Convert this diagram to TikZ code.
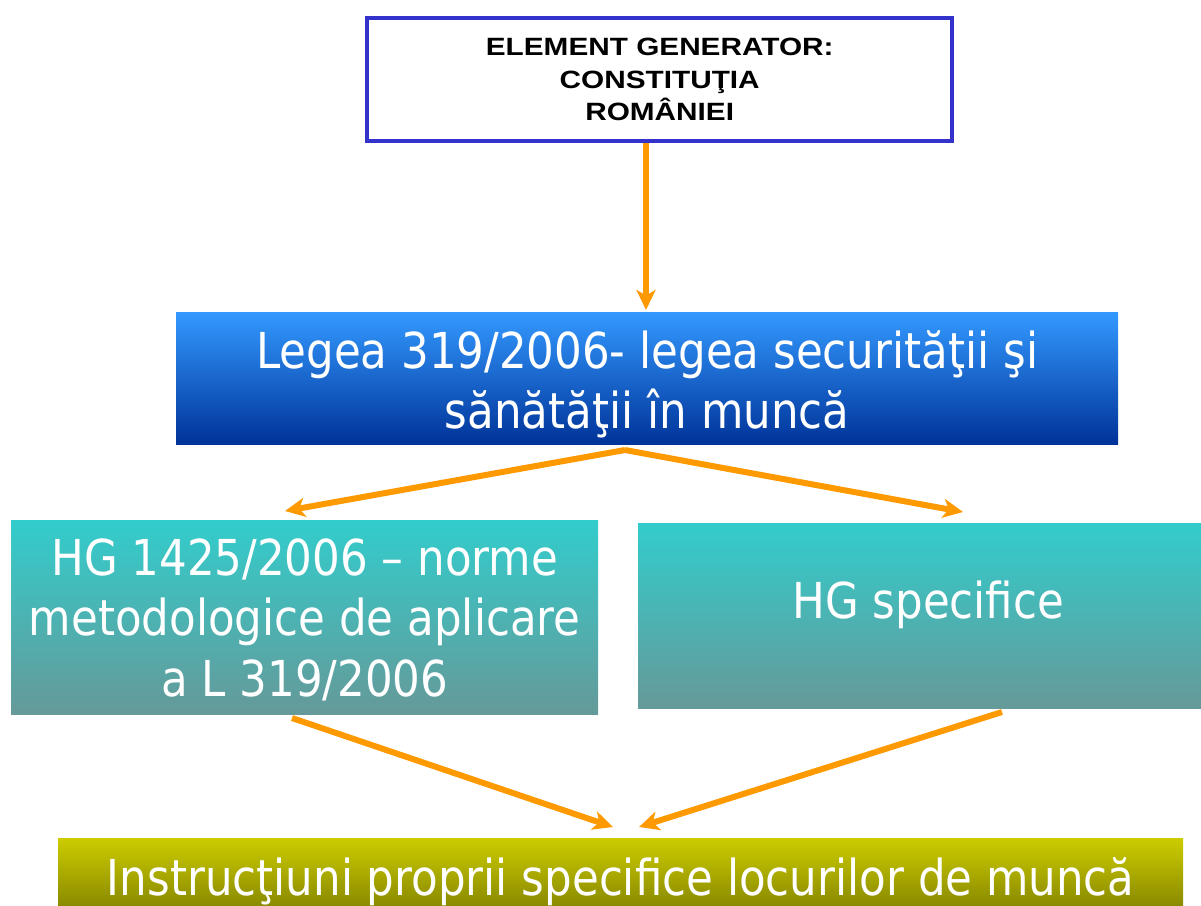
\documentclass[tikz,border=0pt]{standalone}
\usepackage{fontspec}
\setmainfont{Liberation Sans}
\newfontfamily\tahomalike[FakeStretch=0.88]{DejaVu Sans}
\newfontfamily\genfont[FakeStretch=1.19]{Liberation Sans Bold}
\usetikzlibrary{arrows.meta}
\definecolor{framebl}{HTML}{3333CC}
\definecolor{arrowor}{HTML}{FF9900}
\definecolor{lawtop}{HTML}{3399FF}
\definecolor{lawbot}{HTML}{003399}
\definecolor{hgtop}{HTML}{33CCCC}
\definecolor{hgbot}{HTML}{669999}
\definecolor{insttop}{HTML}{CCCC00}
\definecolor{instbot}{HTML}{7A7A00}
\tikzset{
  genbox/.style={draw=framebl, line width=4.4pt, fill=white, align=center, inner sep=0pt,
    font=\genfont\fontsize{25}{32.5}\selectfont},
  lawbox/.style={top color=lawtop, bottom color=lawbot, draw=none, inner sep=0pt},
  hgbox/.style={top color=hgtop, bottom color=hgbot, draw=none, inner sep=0pt},
  instbox/.style={top color=insttop, bottom color=instbot, draw=none, inner sep=0pt},
  bigtext/.style={text=white, align=center, inner sep=0pt,
    font=\tahomalike\fontsize{49.5}{60}\selectfont},
  hgtext/.style={text=white, align=center, inner sep=0pt,
    font=\tahomalike\fontsize{49.5}{60.5}\selectfont},
  flow/.style={draw=arrowor, line width=6pt, -{Stealth[length=20pt,width=19pt,inset=5.5pt]}}
}
\begin{document}
\begin{tikzpicture}[x=1pt,y=-1pt]
\useasboundingbox (0,0) rectangle (1201,905);
\node[genbox, minimum width=585pt, minimum height=123pt, anchor=north west] (gen) at (365,16)
  {ELEMENT GENERATOR:\\CONSTITUŢIA\\ROMÂNIEI};
\node[lawbox, minimum width=942pt, minimum height=132pt, anchor=north west] (law) at (176,312) {};
\node[bigtext, yshift=-6pt] (lawtxt) at (law.center)
  {Legea 319/2006- legea securităţii şi\\sănătăţii în muncă};
\node[hgbox, minimum width=587pt, minimum height=194pt, anchor=north west] (hgl) at (11,520) {};
\node[hgtext, yshift=-2.5pt] (hgltxt) at (hgl.center)
  {HG 1425/2006 – norme\\metodologice de aplicare\\a L 319/2006};
\node[hgbox, minimum width=580pt, minimum height=185pt, anchor=north west] (hgr) at (638,523) {};
\node[hgtext, yshift=10.5pt] (hgrtxt) at (hgr.center) {HG specifice};
\node[instbox, minimum width=1125pt, minimum height=84pt, anchor=north west] (inst) at (58,838) {};
\node[bigtext, yshift=-1pt] (insttxt) at (inst.center)
  {Instrucţiuni proprii specifice locurilor de muncă};
\coordinate (a1s) at (646,143);
\coordinate (a1e) at (646,310);
\coordinate (split) at (625,450);
\coordinate (hglin) at (285,511);
\coordinate (hgrin) at (963,512);
\coordinate (hglout) at (292,718);
\coordinate (hgrout) at (1002,712);
\coordinate (instinl) at (613,827);
\coordinate (instinr) at (639,827);
\draw[flow] (a1s) -- (a1e);
\draw[flow] (split) -- (hglin);
\draw[flow] (split) -- (hgrin);
\draw[flow] (hglout) -- (instinl);
\draw[flow] (hgrout) -- (instinr);
\end{tikzpicture}
\end{document}
